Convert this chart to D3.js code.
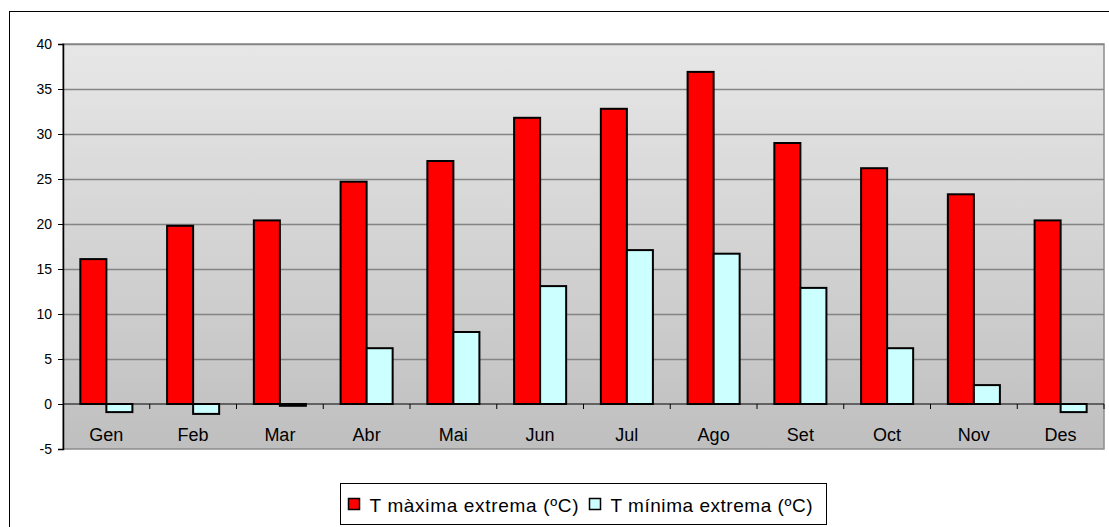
<!DOCTYPE html>
<html>
<head>
<meta charset="utf-8">
<script src="https://cdn.jsdelivr.net/npm/d3@7"></script>
<style>
  body { margin: 0; background: #fff; }
  svg { display: block; font-family: "Liberation Sans", Arial, sans-serif; }
</style>
</head>
<body>
<div id="chart"></div>
<script>
// data
var months = ["Gen", "Feb", "Mar", "Abr", "Mai", "Jun", "Jul", "Ago", "Set", "Oct", "Nov", "Des"];
var tMax = [16.1, 19.8, 20.4, 24.7, 27.0, 31.8, 32.8, 36.9, 29.0, 26.2, 23.3, 20.4];
var tMin = [-0.9, -1.1, -0.2, 6.2, 8.0, 13.1, 17.1, 16.7, 12.9, 6.2, 2.1, -0.9];
var seriesNames = ["T màxima extrema (ºC)", "T mínima extrema (ºC)"];
var seriesColors = ["#ff0000", "#ccffff"];
var yTicks = [-5, 0, 5, 10, 15, 20, 25, 30, 35, 40];

var W = 1109, H = 527;
var margin = { top: 44, right: 5, bottom: 78, left: 63 },
    width = W - margin.left - margin.right,
    height = H - margin.top - margin.bottom;

var root = d3.select("#chart")
    .append("svg")
    .attr("width", W)
    .attr("height", H);

// outer frame
root.append("rect")
    .attr("x", 9.5).attr("y", 11.5)
    .attr("width", W + 10).attr("height", H + 10)
    .attr("fill", "none")
    .attr("stroke", "#000")
    .attr("stroke-width", 1);

var defs = root.append("defs");
var grad = defs.append("linearGradient")
    .attr("id", "bg").attr("x1", 0).attr("y1", 0).attr("x2", 0).attr("y2", 1);
grad.append("stop").attr("offset", "0%").attr("stop-color", "#e7e7e7");
grad.append("stop").attr("offset", "100%").attr("stop-color", "#bfbfbf");

var svg = root.append("g")
    .attr("transform", "translate(" + margin.left + "," + margin.top + ")");

var x = d3.scaleBand()
    .domain(months)
    .range([0, width])
    .paddingInner(0)
    .paddingOuter(0);

var x1 = d3.scaleBand()
    .domain([0, 1])
    .range([x.bandwidth() * 0.2, x.bandwidth() * 0.8]);

var y = d3.scaleLinear()
    .domain([-5, 40])
    .range([height, 0]);

// plot background
svg.append("rect")
    .attr("x", 0).attr("y", 0)
    .attr("width", width).attr("height", height)
    .attr("fill", "url(#bg)")
    .attr("stroke", "#8c8c8c")
    .attr("stroke-width", 1.5);

// gridlines
svg.append("g")
    .selectAll("line")
    .data(yTicks.filter(function (t) { return t !== 0 && t !== -5; }))
    .enter()
    .append("line")
    .attr("x1", 0).attr("x2", width)
    .attr("y1", function (d) { return Math.round(y(d)) + 0.5; })
    .attr("y2", function (d) { return Math.round(y(d)) + 0.5; })
    .attr("stroke", "#858585")
    .attr("stroke-width", 1.3);

// y axis (plain hyphen for negatives, like the original)
var yAxis = svg.append("g")
    .call(d3.axisLeft(y).tickValues(yTicks).tickSize(5).tickPadding(6)
        .tickFormat(function (d) { return String(d); }));
yAxis.select(".domain").attr("stroke", "#000").attr("stroke-width", 1.5);
yAxis.selectAll(".tick line").attr("stroke", "#000");
yAxis.selectAll("text").style("font-size", "14px").attr("fill", "#000")
    .attr("font-family", "Liberation Sans, Arial, sans-serif");

// bars
var rows = months.map(function (m, i) { return { month: m, vals: [tMax[i], tMin[i]] }; });
var groups = svg.selectAll(".grp")
    .data(rows)
    .enter()
    .append("g")
    .attr("class", "grp")
    .attr("transform", function (d) { return "translate(" + x(d.month) + ",0)"; });

groups.selectAll("rect")
    .data(function (d) { return d.vals.map(function (v, k) { return { k: k, v: v }; }); })
    .enter()
    .append("rect")
    .attr("x", function (d) { return x1(d.k); })
    .attr("y", function (d) { return y(Math.max(0, d.v)); })
    .attr("width", x1.bandwidth())
    .attr("height", function (d) { return Math.abs(y(d.v) - y(0)); })
    .attr("fill", function (d) { return seriesColors[d.k]; })
    .attr("stroke", "#000")
    .attr("stroke-width", 2);

// x axis at zero
var xAxis = svg.append("g")
    .attr("transform", "translate(0," + y(0) + ")");
xAxis.append("line")
    .attr("x1", 0).attr("x2", width)
    .attr("stroke", "#000").attr("stroke-width", 1.2);
xAxis.selectAll(".tk")
    .data(months)
    .enter()
    .append("line")
    .attr("x1", function (d, i) { return x.step() * (i + 1); })
    .attr("x2", function (d, i) { return x.step() * (i + 1); })
    .attr("y1", 0).attr("y2", 5)
    .attr("stroke", "#000");
xAxis.selectAll("text")
    .data(months)
    .enter()
    .append("text")
    .attr("x", function (d) { return x(d) + x.bandwidth() / 2; })
    .attr("y", 37)
    .attr("text-anchor", "middle")
    .style("font-size", "18px")
    .text(function (d) { return d; });

// legend
var legend = root.append("g").attr("transform", "translate(340.5,483.5)");
legend.append("rect")
    .attr("width", 486).attr("height", 41)
    .attr("fill", "#fff").attr("stroke", "#000");
var items = legend.selectAll(".item")
    .data(seriesNames)
    .enter()
    .append("g")
    .attr("transform", function (d, i) { return "translate(" + (i === 0 ? 8 : 249) + ",21)"; });
items.append("rect")
    .attr("x", 0).attr("y", -6)
    .attr("width", 11).attr("height", 11)
    .attr("fill", function (d, i) { return seriesColors[i]; })
    .attr("stroke", "#000").attr("stroke-width", 1.5);
items.append("text")
    .attr("x", 21).attr("y", 7)
    .style("font-size", "19px")
    .attr("textLength", function (d, i) { return i === 0 ? 209 : 202; })
    .attr("lengthAdjust", "spacing")
    .text(function (d) { return d; });
</script>
</body>
</html>
